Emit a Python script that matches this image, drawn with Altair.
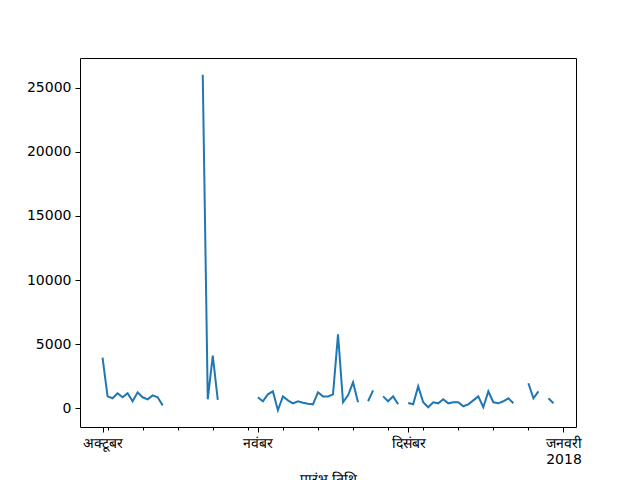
import altair as alt
import pandas as pd

# daily values, Oct 1 2017 .. Dec 30 2017 (None = missing day)
oct_vals = [3950, 930, 780, 1170, 860, 1170, 550, 1250, 860, 700, 1010, 860, 230,
            None, None, None, None, None, None, None,
            26000, 700, 4100, 650,
            None, None, None, None, None, None, None]
nov_vals = [860, 550, 1090, 1320, -150, 930, 620, 390, 550, 430, 350, 310, 1250, 930, 930,
            1090, 5760, 470, 1010, 2020, 470, None, 550, 1400, None, 930, 550, 930, 310, None]
dec_vals = [420, 310, 1710, 470, 80, 470, 390, 700, 390, 470, 470, 160, 310, 620, 930,
            80, 1320, 470, 390, 550, 780, 390, None, None, 1950, 780, 1320, None, 780, 390]

values = oct_vals + nov_vals + dec_vals
dates = pd.date_range("2017-10-01", periods=len(values), freq="D")
df = pd.DataFrame({"date": dates.strftime("%Y-%m-%dT00:00:00"), "value": values})

month_ticks = [alt.DateTime(year=2017, month=10, date=1),
               alt.DateTime(year=2017, month=11, date=1),
               alt.DateTime(year=2017, month=12, date=1),
               alt.DateTime(year=2018, month=1, date=1)]
week_ticks = [alt.DateTime(year=2017, month=10, date=d) for d in (2, 9, 16, 23, 30)] + \
             [alt.DateTime(year=2017, month=11, date=d) for d in (6, 13, 20, 27)] + \
             [alt.DateTime(year=2017, month=12, date=d) for d in (4, 11, 18, 25)]

x_scale = alt.Scale(domain=[alt.DateTime(year=2017, month=9, date=26, hours=12),
                            alt.DateTime(year=2018, month=1, date=3, hours=12)])
y_scale = alt.Scale(domain=[-1457, 27307], nice=False, zero=False)

label_expr = ("month(datum.value) == 9 ? 'अक्टूबर' : month(datum.value) == 10 ? 'नवंबर' : "
              "month(datum.value) == 11 ? 'दिसंबर' : ['जनवरी', '2018']")

font = "DejaVu Sans"

line = alt.Chart(df).mark_line(color="#1f77b4", strokeWidth=2).encode(
    x=alt.X("date:T", scale=x_scale,
            axis=alt.Axis(values=month_ticks, labelExpr=label_expr, title="प्रारंभ तिथि",
                          orient="bottom", grid=False, domain=False, tickColor="black",
                          tickSize=5, labelColor="black", labelFontSize=14, labelFont=font,
                          labelPadding=4, labelAlign="center", titleFont=font,
                          titleFontSize=14, titleFontWeight="normal", titleColor="black",
                          titlePadding=6, labelLineHeight=16)),
    y=alt.Y("value:Q", scale=y_scale,
            axis=alt.Axis(values=[0, 5000, 10000, 15000, 20000, 25000], format="d",
                          title=None, orient="left", grid=False, domain=False,
                          tickColor="black", tickSize=5, labelColor="black",
                          labelFontSize=14, labelFont=font, labelPadding=4)),
)

minor = alt.Chart(df).mark_line(opacity=0).encode(
    x=alt.X("date:T", scale=x_scale,
            axis=alt.Axis(values=week_ticks, labels=False, title=None, grid=False,
                          orient="bottom", domain=False, tickColor="black", tickSize=3)),
    y=alt.Y("value:Q", scale=y_scale, axis=None),
)

chart = alt.layer(line, minor).resolve_axis(x="independent", y="independent").properties(
    width=496, height=369,
    autosize=alt.AutoSizeParams(type="none"),
    padding={"left": 72, "top": 50, "right": 56, "bottom": 80},
).configure_view(stroke="black", strokeWidth=1)

chart.save("out.html", embed_options={"renderer": "svg", "actions": False})
